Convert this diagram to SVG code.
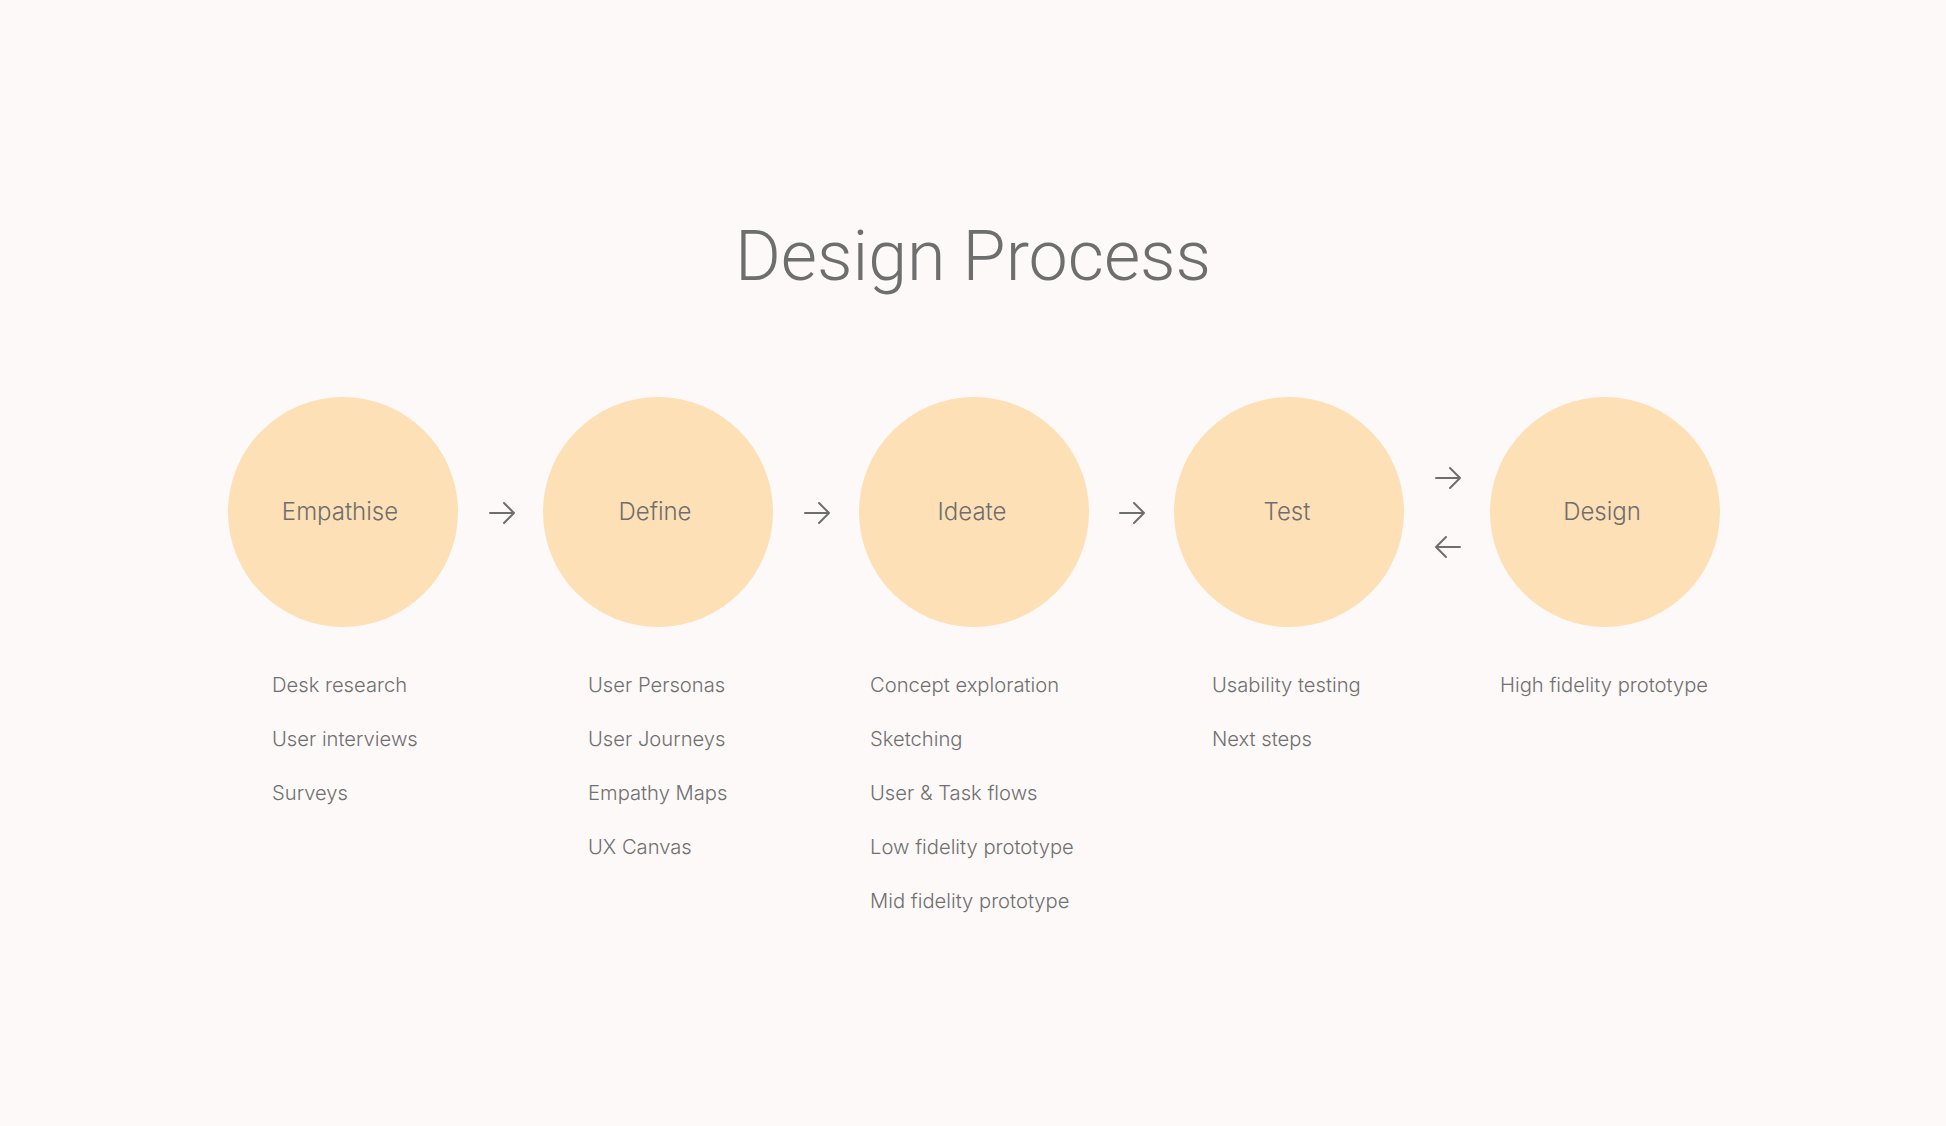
<svg xmlns="http://www.w3.org/2000/svg" width="1946" height="1126" viewBox="0 0 1946 1126">
  <defs>
    <style>
      .bg { fill: #fdf9f8; }
      .title { font-family: Roboto, "Liberation Sans", sans-serif; font-weight: 300; font-size: 70px; fill: #6e6e6e; }
      .stage { fill: #fee0b6; }
      .stage-label { font-family: Inter, "Liberation Sans", sans-serif; font-weight: 300; font-size: 24px; fill: #6e6e6e; text-anchor: middle; }
      .item { font-family: Inter, "Liberation Sans", sans-serif; font-weight: 300; font-size: 20.2px; fill: #707070; }
      .arrow { fill: none; stroke: #6e6e6e; stroke-width: 2; stroke-linecap: round; stroke-linejoin: round; }
    </style>
  </defs>

  <rect class="bg" x="0" y="0" width="1946" height="1126"/>

  <text class="title" x="973" y="280" text-anchor="middle">Design Process</text>

  <!-- stages -->
  <g id="empathise">
    <circle class="stage" cx="343" cy="512" r="115"/>
    <text class="stage-label" x="340" y="520">Empathise</text>
    <text class="item" x="272" y="692">Desk research</text>
    <text class="item" x="272" y="746">User interviews</text>
    <text class="item" x="272" y="800">Surveys</text>
  </g>

  <g id="define">
    <circle class="stage" cx="658" cy="512" r="115"/>
    <text class="stage-label" x="655" y="520">Define</text>
    <text class="item" x="588" y="692">User Personas</text>
    <text class="item" x="588" y="746">User Journeys</text>
    <text class="item" x="588" y="800">Empathy Maps</text>
    <text class="item" x="588" y="854">UX Canvas</text>
  </g>

  <g id="ideate">
    <circle class="stage" cx="974" cy="512" r="115"/>
    <text class="stage-label" x="972" y="520">Ideate</text>
    <text class="item" x="870" y="692">Concept exploration</text>
    <text class="item" x="870" y="746">Sketching</text>
    <text class="item" x="870" y="800">User &amp; Task flows</text>
    <text class="item" x="870" y="854">Low fidelity prototype</text>
    <text class="item" x="870" y="908">Mid fidelity prototype</text>
  </g>

  <g id="test">
    <circle class="stage" cx="1289" cy="512" r="115"/>
    <text class="stage-label" x="1287" y="520">Test</text>
    <text class="item" x="1212" y="692">Usability testing</text>
    <text class="item" x="1212" y="746">Next steps</text>
  </g>

  <g id="design">
    <circle class="stage" cx="1605" cy="512" r="115"/>
    <text class="stage-label" x="1602" y="520">Design</text>
    <text class="item" x="1500" y="692">High fidelity prototype</text>
  </g>

  <!-- connectors -->
  <g id="connectors">
    <path class="arrow" d="M490 513 H514 M504 503 L514 513 L504 523"/>
    <path class="arrow" d="M805 513 H829 M819 503 L829 513 L819 523"/>
    <path class="arrow" d="M1120 513 H1144 M1134 503 L1144 513 L1134 523"/>
    <path class="arrow" d="M1436 478 H1460 M1450 468 L1460 478 L1450 488"/>
    <path class="arrow" d="M1460 547 H1436 M1446 537 L1436 547 L1446 557"/>
  </g>
</svg>
